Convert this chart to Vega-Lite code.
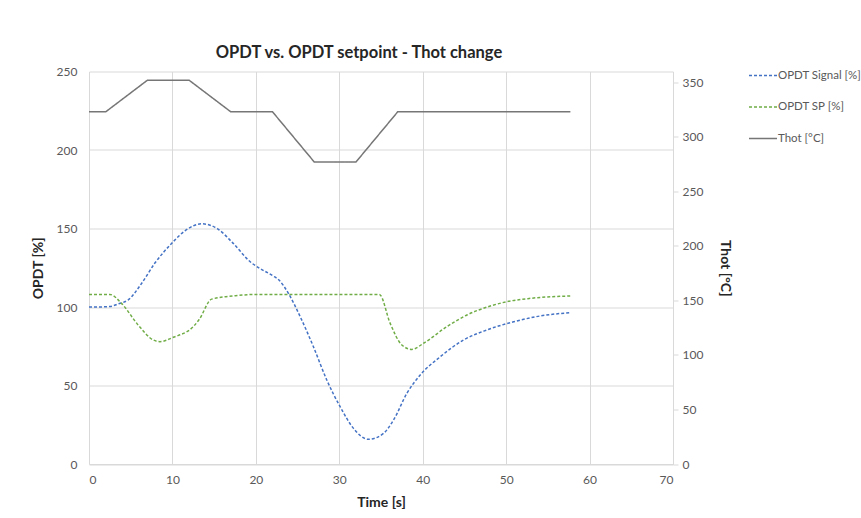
{
  "$schema": "https://vega.github.io/schema/vega-lite/v6.json",
  "width": 584,
  "height": 392.5,
  "autosize": {"type": "none"},
  "padding": {"left": 89, "top": 71.5, "right": 188, "bottom": 54},
  "background": "white",
  "config": {
    "font": "Lato",
    "view": {"stroke": null},
    "axis": {
      "labelColor": "#595959",
      "labelFontSize": 12,
      "labelFont": "Lato",
      "titleFont": "Lato",
      "titleFontSize": 14,
      "titleFontWeight": "bold",
      "titleColor": "#262626",
      "gridColor": "#d9d9d9",
      "domainColor": "#d9d9d9",
      "tickColor": "#d9d9d9"
    },
    "legend": {
      "orient": "none",
      "legendX": 659,
      "legendY": -11,
      "symbolType": "stroke",
      "symbolSize": 784,
      "symbolStrokeWidth": 1.5,
      "labelFont": "Lato",
      "labelFontSize": 11.5,
      "labelColor": "#595959",
      "labelOffset": 0,
      "labelLimit": 300,
      "rowPadding": 10.5
    }
  },
  "title": {
    "text": "OPDT vs. OPDT setpoint - Thot change",
    "fontSize": 16.5,
    "fontWeight": "bold",
    "color": "#262626",
    "font": "Lato",
    "anchor": "middle",
    "dx": -22,
    "dy": 6,
    "offset": 5
  },
  "datasets": {
    "opdt": [
      {"t": 0, "series": "OPDT Signal [%]", "v": 100},
      {"t": 1, "series": "OPDT Signal [%]", "v": 100},
      {"t": 2.5, "series": "OPDT Signal [%]", "v": 100.3},
      {"t": 3.5, "series": "OPDT Signal [%]", "v": 102},
      {"t": 4.7, "series": "OPDT Signal [%]", "v": 104.5},
      {"t": 6.3, "series": "OPDT Signal [%]", "v": 115},
      {"t": 7.9, "series": "OPDT Signal [%]", "v": 128},
      {"t": 9.9, "series": "OPDT Signal [%]", "v": 140.5},
      {"t": 11.5, "series": "OPDT Signal [%]", "v": 148.5},
      {"t": 13.5, "series": "OPDT Signal [%]", "v": 153},
      {"t": 15.5, "series": "OPDT Signal [%]", "v": 149.5},
      {"t": 17.2, "series": "OPDT Signal [%]", "v": 141},
      {"t": 19.5, "series": "OPDT Signal [%]", "v": 128},
      {"t": 20.5, "series": "OPDT Signal [%]", "v": 124.5},
      {"t": 22, "series": "OPDT Signal [%]", "v": 120},
      {"t": 22.8, "series": "OPDT Signal [%]", "v": 117},
      {"t": 23.9, "series": "OPDT Signal [%]", "v": 108.7},
      {"t": 25.3, "series": "OPDT Signal [%]", "v": 94},
      {"t": 26.9, "series": "OPDT Signal [%]", "v": 74.7},
      {"t": 28.5, "series": "OPDT Signal [%]", "v": 53.5},
      {"t": 30.1, "series": "OPDT Signal [%]", "v": 36.5},
      {"t": 31.7, "series": "OPDT Signal [%]", "v": 22.7},
      {"t": 33.5, "series": "OPDT Signal [%]", "v": 15.7},
      {"t": 35.3, "series": "OPDT Signal [%]", "v": 19.5},
      {"t": 36.5, "series": "OPDT Signal [%]", "v": 28},
      {"t": 38.1, "series": "OPDT Signal [%]", "v": 45},
      {"t": 39.7, "series": "OPDT Signal [%]", "v": 56.7},
      {"t": 42.1, "series": "OPDT Signal [%]", "v": 68.3},
      {"t": 44.9, "series": "OPDT Signal [%]", "v": 79},
      {"t": 47.7, "series": "OPDT Signal [%]", "v": 85.4},
      {"t": 50.9, "series": "OPDT Signal [%]", "v": 90.6},
      {"t": 54.1, "series": "OPDT Signal [%]", "v": 94.3},
      {"t": 57.7, "series": "OPDT Signal [%]", "v": 96.4},
      {"t": 0, "series": "OPDT SP [%]", "v": 108},
      {"t": 2.5, "series": "OPDT SP [%]", "v": 108},
      {"t": 3.9, "series": "OPDT SP [%]", "v": 102.3},
      {"t": 5.9, "series": "OPDT SP [%]", "v": 88.5},
      {"t": 7.7, "series": "OPDT SP [%]", "v": 79},
      {"t": 8.5, "series": "OPDT SP [%]", "v": 77.9},
      {"t": 10.1, "series": "OPDT SP [%]", "v": 80.7},
      {"t": 12.5, "series": "OPDT SP [%]", "v": 87.5},
      {"t": 13.2, "series": "OPDT SP [%]", "v": 92},
      {"t": 14.7, "series": "OPDT SP [%]", "v": 105},
      {"t": 18, "series": "OPDT SP [%]", "v": 107.4},
      {"t": 20, "series": "OPDT SP [%]", "v": 108},
      {"t": 34.8, "series": "OPDT SP [%]", "v": 108},
      {"t": 36.1, "series": "OPDT SP [%]", "v": 89.6},
      {"t": 37.5, "series": "OPDT SP [%]", "v": 75.8},
      {"t": 38.7, "series": "OPDT SP [%]", "v": 73},
      {"t": 40.1, "series": "OPDT SP [%]", "v": 76.9},
      {"t": 42.9, "series": "OPDT SP [%]", "v": 87.5},
      {"t": 45.3, "series": "OPDT SP [%]", "v": 94.9},
      {"t": 48.1, "series": "OPDT SP [%]", "v": 100.6},
      {"t": 50.1, "series": "OPDT SP [%]", "v": 103.4},
      {"t": 52.9, "series": "OPDT SP [%]", "v": 105.5},
      {"t": 57.7, "series": "OPDT SP [%]", "v": 107}
    ],
    "thot": [
      {"t": 0, "series": "Thot [°C]", "v": 323},
      {"t": 2, "series": "Thot [°C]", "v": 323},
      {"t": 7, "series": "Thot [°C]", "v": 352},
      {"t": 12, "series": "Thot [°C]", "v": 352},
      {"t": 17, "series": "Thot [°C]", "v": 323},
      {"t": 22, "series": "Thot [°C]", "v": 323},
      {"t": 27, "series": "Thot [°C]", "v": 277},
      {"t": 32, "series": "Thot [°C]", "v": 277},
      {"t": 37, "series": "Thot [°C]", "v": 323},
      {"t": 57.7, "series": "Thot [°C]", "v": 323}
    ]
  },
  "layer": [
    {
      "data": {"name": "opdt"},
      "mark": {"type": "line", "interpolate": "monotone", "strokeWidth": 1.5},
      "encoding": {
        "x": {
          "field": "t", "type": "quantitative",
          "scale": {"domain": [0, 70], "nice": false},
          "axis": {"title": "Time [s]", "values": [0, 10, 20, 30, 40, 50, 60, 70], "grid": true, "ticks": false, "domain": true, "labelPadding": 10, "titlePadding": 10}
        },
        "y": {
          "field": "v", "type": "quantitative",
          "scale": {"domain": [0, 250], "nice": false},
          "axis": {"title": "OPDT [%]", "values": [0, 50, 100, 150, 200, 250], "grid": true, "ticks": false, "domain": false, "labelPadding": 12, "titlePadding": 11}
        },
        "color": {
          "field": "series", "type": "nominal",
          "scale": {"domain": ["OPDT Signal [%]", "OPDT SP [%]", "Thot [°C]"], "range": ["#4472C4", "#70AD47", "#767676"]},
          "legend": {"title": null}
        },
        "strokeDash": {
          "field": "series", "type": "nominal",
          "scale": {"domain": ["OPDT Signal [%]", "OPDT SP [%]", "Thot [°C]"], "range": [[3, 2], [3, 2], [1, 0]]},
          "legend": {"title": null}
        }
      }
    },
    {
      "data": {"name": "thot"},
      "mark": {"type": "line", "strokeWidth": 1.5},
      "encoding": {
        "x": {"field": "t", "type": "quantitative"},
        "y": {
          "field": "v", "type": "quantitative",
          "scale": {"domain": [0, 360], "nice": false},
          "axis": {"orient": "right", "title": "Thot [°C]", "values": [0, 50, 100, 150, 200, 250, 300, 350], "grid": false, "ticks": true, "tickSize": 5, "domain": true, "labelPadding": 4, "titlePadding": 15}
        },
        "color": {"field": "series", "type": "nominal"},
        "strokeDash": {"field": "series", "type": "nominal"}
      }
    }
  ],
  "resolve": {"scale": {"y": "independent"}}
}
